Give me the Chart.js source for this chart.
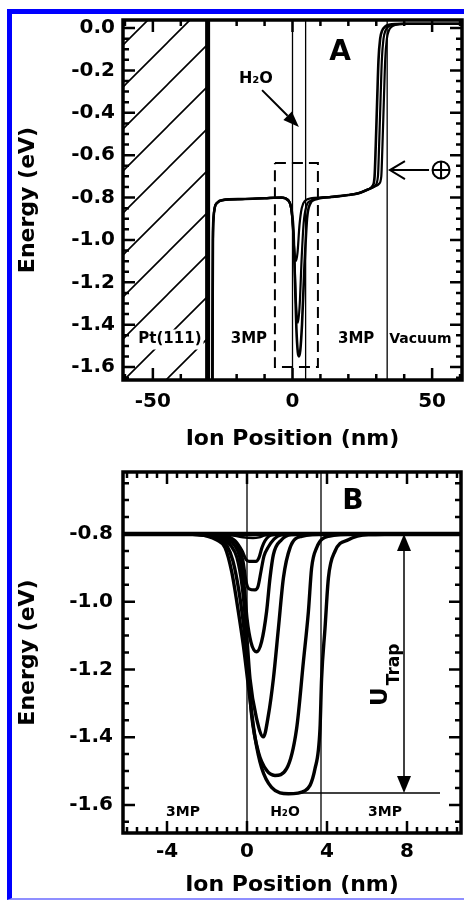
<!DOCTYPE html>
<html>
<head>
<meta charset="utf-8">
<script src="https://cdn.jsdelivr.net/npm/chart.js@4.4.0/dist/chart.umd.min.js"></script>
<style>
  html, body { margin: 0; padding: 0; background: #fff; }
  #page { position: relative; width: 464px; height: 901px; overflow: hidden; background: #fff; }
  canvas { position: absolute; left: 0; }
  #chartA { top: 0; }
  #chartB { top: 455px; }
  #frame { position: absolute; left: 7px; top: 9px; width: 520px; height: 884px;
           border-left: 5px solid #0000ff; border-top: 5px solid #0000ff; border-bottom: 2px solid #8f8fff; }
</style>
</head>
<body>
<div id="page">
  <canvas id="chartA" width="464" height="455"></canvas>
  <canvas id="chartB" width="464" height="446"></canvas>
  <div id="frame"></div>
</div>
<script>
const FONT = "'DejaVu Sans', sans-serif";

// ---------- panel A ----------
const aXRange = [-60.7, 60.7];
const aYRange = [-1.661, 0.038];
const aXLabels = [-50, 0, 50];
const aYLabels = [0, -0.2, -0.4, -0.6, -0.8, -1.0, -1.2, -1.4, -1.6];

const ptSlabX = [-60.7, -30.4];      // Pt(111) electrode
const aWaterLines = [0, 4.7];
const aVacuumLine = 33.9;
const aBoxX = [-6.3, 9.1];           // region blown up in B
const aBoxE = [-0.637, -1.6];

const a1X = [-28.7, -28.5, -28.3, -27.8, -27, -25, -18, -10, -4, -1.5, -0.3, 0.4, 0.9, 1.4, 1.9, 2.3, 2.8, 3.4, 4.3, 5.2, 6.3, 8, 14, 20, 24, 27, 28.7, 29.4, 29.8, 30.3, 30.8, 31.4, 32.1, 33.1, 34.5, 40, 60.7];
const a1E = [-1.70, -1.00, -0.90, -0.845, -0.825, -0.812, -0.807, -0.803, -0.80, -0.815, -0.86, -0.97, -1.20, -1.42, -1.53, -1.55, -1.52, -1.40, -1.12, -0.90, -0.83, -0.81, -0.797, -0.788, -0.778, -0.762, -0.745, -0.70, -0.56, -0.35, -0.15, -0.05, -0.012, 0.006, 0.015, 0.02, 0.02];
const a2X = [-28.7, -28.5, -28.3, -27.8, -27, -25, -18, -10, -4, -1.5, -0.3, 0.5, 1.1, 1.6, 2.0, 2.6, 3.3, 4.0, 5.0, 6.5, 9, 14, 20, 24, 27, 29.5, 30.6, 31.0, 31.5, 32.0, 32.6, 33.3, 34.3, 35.7, 40, 60.7];
const a2E = [-1.70, -1.00, -0.90, -0.845, -0.825, -0.812, -0.807, -0.803, -0.80, -0.812, -0.87, -1.02, -1.25, -1.37, -1.39, -1.30, -1.08, -0.92, -0.84, -0.815, -0.803, -0.797, -0.788, -0.778, -0.762, -0.745, -0.70, -0.56, -0.35, -0.15, -0.05, -0.012, 0.006, 0.015, 0.02, 0.02];
const a3X = [-28.7, -28.5, -28.3, -27.8, -27, -25, -18, -10, -4, -1.5, -0.2, 0.6, 1.2, 1.8, 2.5, 3.3, 4.5, 7, 14, 20, 24, 27, 29.5, 31.0, 31.8, 32.2, 32.7, 33.2, 33.8, 34.5, 35.5, 36.9, 40, 60.7];
const a3E = [-1.70, -1.00, -0.90, -0.845, -0.825, -0.812, -0.807, -0.803, -0.80, -0.812, -0.88, -1.04, -1.10, -1.06, -0.93, -0.85, -0.815, -0.803, -0.797, -0.788, -0.778, -0.762, -0.748, -0.735, -0.70, -0.56, -0.35, -0.15, -0.05, -0.012, 0.006, 0.015, 0.02, 0.02];

// ---------- panel B ----------
const bXRange = [-6.2, 10.7];
const bYRange = [-1.683, -0.617];
const bXLabels = [-4, 0, 4, 8];
const bYLabels = [-0.8, -1.0, -1.2, -1.4, -1.6];

const bWaterLines = [0, 3.7];
const bTrapX = [2.1, 9.65];
const bTrapE = -1.565;
const bBaseE = -0.8;
const bTrapArrowX = 7.85;

const b0X = [-6.2, 10.7];
const b0E = [-0.8, -0.8];
const b1X = [-6.2, -1.5, -0.6, -0.2, 0.3, 0.6, 0.9, 1.4, 10.7];
const b1E = [-0.8, -0.8, -0.805, -0.81, -0.812, -0.81, -0.804, -0.8, -0.8];
const b2X = [-6.2, -2, -1.1, -0.6, -0.25, -0.05, 0.1, 0.45, 0.6, 0.75, 0.9, 1.23, 2, 10.7];
const b2E = [-0.8, -0.8, -0.805, -0.82, -0.85, -0.875, -0.881, -0.881, -0.87, -0.84, -0.82, -0.803, -0.8, -0.8];
const b3X = [-6.2, -2.2, -1.3, -0.8, -0.45, -0.2, -0.05, 0.1, 0.4, 0.55, 0.7, 0.85, 1.05, 1.35, 1.7, 2.5, 10.7];
const b3E = [-0.8, -0.8, -0.805, -0.815, -0.835, -0.88, -0.94, -0.962, -0.965, -0.955, -0.91, -0.865, -0.84, -0.815, -0.803, -0.8, -0.8];
const b4X = [-6.2, -2.5, -1.5, -1.0, -0.6, -0.35, -0.15, 0, 0.2, 0.48, 0.73, 0.98, 1.15, 1.32, 1.73, 2.2, 3, 10.7];
const b4E = [-0.8, -0.8, -0.806, -0.815, -0.835, -0.87, -0.95, -1.05, -1.12, -1.148, -1.118, -1.029, -0.93, -0.861, -0.817, -0.802, -0.8, -0.8];
const b5X = [-6.2, -3, -1.8, -1.2, -0.8, -0.5, -0.25, -0.05, 0.15, 0.48, 0.82, 1.07, 1.32, 1.57, 1.82, 2.15, 2.73, 4, 10.7];
const b5E = [-0.8, -0.8, -0.805, -0.815, -0.835, -0.87, -0.95, -1.07, -1.227, -1.345, -1.399, -1.335, -1.227, -1.079, -0.93, -0.841, -0.807, -0.8, -0.8];
const b6X = [-6.2, -3, -2, -1.4, -1.0, -0.7, -0.4, -0.15, 0.05, 0.23, 0.57, 0.98, 1.4, 1.98, 2.48, 2.82, 3.07, 3.23, 3.48, 4.07, 5.5, 10.7];
const b6E = [-0.8, -0.8, -0.805, -0.815, -0.835, -0.88, -0.97, -1.08, -1.2, -1.335, -1.444, -1.498, -1.513, -1.493, -1.375, -1.177, -1.029, -0.901, -0.841, -0.807, -0.8, -0.8];
const b7X = [-6.2, -3, -2, -1.5, -1.1, -0.77, -0.43, -0.18, 0.05, 0.4, 0.73, 1.23, 2.07, 2.9, 3.4, 3.65, 3.73, 3.9, 4.07, 4.4, 5.07, 6.07, 8, 10.7];
const b7E = [-0.8, -0.8, -0.806, -0.818, -0.84, -0.91, -1.03, -1.13, -1.24, -1.40, -1.49, -1.548, -1.567, -1.558, -1.493, -1.375, -1.227, -1.079, -0.93, -0.851, -0.817, -0.802, -0.8, -0.8];

// tick positions (minor ticks between the labelled ones)
const aXTicks = [], aYTicks = [], bXTicks = [], bYTicks = [];
for (let v = -60; v <= 60; v += 10) aXTicks.push(v);
for (let k = -165; k <= 0; k += 5) aYTicks.push(k / 100);
for (let k = -12; k <= 21; k++) bXTicks.push(k / 2);
for (let k = -165; k <= -65; k += 5) bYTicks.push(k / 100);

const pts = (xs, ys) => xs.map((x, i) => ({ x, y: Array.isArray(ys) ? ys[i] : ys }));
const isMajor = (v, labels) => labels.some(l => Math.abs(l - v) < 1e-9);

function curve(xs, ys, width) {
  return { data: pts(xs, ys), borderColor: '#000', borderWidth: width,
           cubicInterpolationMode: 'monotone', pointRadius: 0, fill: false, order: 1 };
}
function straight(xs, ys, width, dash) {
  return { data: pts(xs, ys), borderColor: '#000', borderWidth: width, borderDash: dash || [],
           tension: 0, pointRadius: 0, fill: false, order: 2 };
}

function hatchPattern() {
  const s = 42, c = document.createElement('canvas');
  c.width = s; c.height = s;
  const g = c.getContext('2d');
  g.strokeStyle = '#000'; g.lineWidth = 1.6;
  g.beginPath();
  g.moveTo(0, s); g.lineTo(s, 0);
  g.moveTo(-s / 2, s / 2); g.lineTo(s / 2, -s / 2);
  g.moveTo(s / 2, s * 1.5); g.lineTo(s * 1.5, s / 2);
  g.stroke();
  return g.createPattern(c, 'repeat');
}

function axisX(range, ticks, labels, pad, height) {
  return {
    type: 'linear', position: 'bottom', min: range[0], max: range[1],
    afterBuildTicks: s => { s.ticks = ticks.map(v => ({ value: v })); },
    afterFit: s => { s.height = height; s.paddingLeft = 0; s.paddingRight = 0; },
    grid: { display: false, drawTicks: false }, border: { display: false },
    ticks: { autoSkip: false, maxRotation: 0, minRotation: 0, padding: pad, color: '#000',
             font: { family: FONT, size: 20, weight: 'bold' },
             callback: v => isMajor(v, labels) ? String(Math.round(v)) : '' },
    title: { display: true, text: 'Ion Position (nm)', color: '#000',
             font: { family: FONT, size: 22, weight: 'bold' }, padding: { top: 0, bottom: 3 } }
  };
}
function axisY(range, ticks, labels, pad) {
  return {
    type: 'linear', position: 'left', min: range[0], max: range[1],
    afterBuildTicks: s => { s.ticks = ticks.map(v => ({ value: v })); },
    afterFit: s => { s.width = 123; s.paddingTop = 0; s.paddingBottom = 0; },
    grid: { display: false, drawTicks: false }, border: { display: false },
    ticks: { autoSkip: false, padding: pad, color: '#000',
             font: { family: FONT, size: 20, weight: 'bold' },
             callback: v => isMajor(v, labels) ? v.toFixed(1) : '' },
    title: { display: true, text: 'Energy (eV)', color: '#000',
             font: { family: FONT, size: 22, weight: 'bold' }, padding: { top: 15, bottom: 0 } }
  };
}

function arrow(ctx, x0, y0, x1, y1, len, half, filled) {
  const a = Math.atan2(y1 - y0, x1 - x0);
  const bx = x1 - len * Math.cos(a), by = y1 - len * Math.sin(a);
  const nx = -Math.sin(a) * half, ny = Math.cos(a) * half;
  ctx.beginPath();
  ctx.moveTo(x0, y0);
  ctx.lineTo(filled ? bx : x1, filled ? by : y1);
  ctx.stroke();
  ctx.beginPath();
  ctx.moveTo(bx + nx, by + ny); ctx.lineTo(x1, y1); ctx.lineTo(bx - nx, by - ny);
  if (filled) { ctx.closePath(); ctx.fill(); } else { ctx.stroke(); }
}

// frame with inward ticks on all four sides, then the panel notes
function framePlugin(cfg) {
  return {
    id: 'frame',
    afterDatasetsDraw(chart) {
      const { ctx, chartArea: a, scales: { x, y } } = chart;
      ctx.save();
      ctx.strokeStyle = '#000';
      ctx.lineWidth = cfg.tickWidth;
      ctx.beginPath();
      x.ticks.forEach(t => {
        const p = x.getPixelForValue(t.value);
        const len = isMajor(t.value, cfg.xLabels) ? cfg.major : cfg.minor;
        ctx.moveTo(p, a.bottom); ctx.lineTo(p, a.bottom - len);
        ctx.moveTo(p, a.top); ctx.lineTo(p, a.top + len);
      });
      y.ticks.forEach(t => {
        const p = y.getPixelForValue(t.value);
        const len = isMajor(t.value, cfg.yLabels) ? cfg.major : cfg.minor;
        ctx.moveTo(a.left, p); ctx.lineTo(a.left + len, p);
        ctx.moveTo(a.right, p); ctx.lineTo(a.right - len, p);
      });
      ctx.stroke();
      ctx.lineWidth = cfg.frameWidth;
      ctx.strokeRect(a.left, a.top, a.right - a.left, a.bottom - a.top);
      ctx.restore();
      cfg.notes(chart);
    }
  };
}

function notesA(chart) {
  const { ctx, scales: { x, y } } = chart;
  const X = v => x.getPixelForValue(v), Y = v => y.getPixelForValue(v);
  ctx.save();
  ctx.fillStyle = '#000'; ctx.strokeStyle = '#000';
  ctx.textAlign = 'center'; ctx.textBaseline = 'middle';

  ctx.font = `bold 15px ${FONT}`;
  const w = ctx.measureText('Pt(111)').width;
  ctx.fillStyle = '#fff';
  ctx.fillRect(X(-43.9) - w / 2 - 2, Y(-1.47) - 10, w + 4, 20);
  ctx.fillStyle = '#000';
  ctx.fillText('Pt(111)', X(-43.9), Y(-1.47));
  ctx.fillText('3MP', X(-15.6), Y(-1.47));
  ctx.fillText('3MP', X(22.8), Y(-1.47));
  ctx.font = `bold 14px ${FONT}`;
  ctx.fillText('Vacuum', X(45.8), Y(-1.47));

  ctx.font = `bold 28px ${FONT}`;
  ctx.fillText('A', X(17), Y(-0.118));

  ctx.font = `bold 16px ${FONT}`;
  ctx.fillText('H\u2082O', X(-13.1), Y(-0.241));
  ctx.lineWidth = 2;
  arrow(ctx, X(-10.9), Y(-0.293), X(2.3), Y(-0.467), 16, 6, true);

  const cx = X(53.2), cy = Y(-0.67), r = 8.5;
  ctx.beginPath();
  ctx.arc(cx, cy, r, 0, 2 * Math.PI);
  ctx.moveTo(cx - r, cy); ctx.lineTo(cx + r, cy);
  ctx.moveTo(cx, cy - r); ctx.lineTo(cx, cy + r);
  ctx.stroke();
  arrow(ctx, X(48.9), cy, X(34.9), cy, 15, 9, false);
  ctx.restore();
}

function notesB(chart) {
  const { ctx, scales: { x, y } } = chart;
  const X = v => x.getPixelForValue(v), Y = v => y.getPixelForValue(v);
  ctx.save();
  ctx.fillStyle = '#000'; ctx.strokeStyle = '#000';
  ctx.textAlign = 'center'; ctx.textBaseline = 'middle';

  ctx.font = `bold 14px ${FONT}`;
  ctx.fillText('3MP', X(-3.2), Y(-1.621));
  ctx.fillText('H\u2082O', X(1.9), Y(-1.621));
  ctx.fillText('3MP', X(6.9), Y(-1.621));

  ctx.font = `bold 28px ${FONT}`;
  ctx.fillText('B', X(5.3), Y(-0.706));

  // U_Trap double arrow
  const ax = X(bTrapArrowX), top = Y(bBaseE), bot = Y(bTrapE);
  ctx.lineWidth = 1.5;
  ctx.beginPath(); ctx.moveTo(ax, top + 14); ctx.lineTo(ax, bot - 14); ctx.stroke();
  ctx.beginPath(); ctx.moveTo(ax, top); ctx.lineTo(ax - 7, top + 17); ctx.lineTo(ax + 7, top + 17); ctx.closePath(); ctx.fill();
  ctx.beginPath(); ctx.moveTo(ax, bot); ctx.lineTo(ax - 7, bot - 17); ctx.lineTo(ax + 7, bot - 17); ctx.closePath(); ctx.fill();

  ctx.translate(X(7.0), Y(-1.308));
  ctx.rotate(-Math.PI / 2);
  ctx.textAlign = 'left'; ctx.textBaseline = 'alphabetic';
  ctx.font = `bold 23px ${FONT}`;
  ctx.fillText('U', 0, 0);
  const uw = ctx.measureText('U').width;
  ctx.font = `bold 17px ${FONT}`;
  ctx.fillText('Trap', uw + 2, 12);
  ctx.restore();
}

const common = {
  responsive: false, animation: false, events: [], devicePixelRatio: 1,
  elements: { point: { radius: 0 } },
  plugins: { legend: { display: false }, tooltip: { enabled: false } }
};

new Chart(document.getElementById('chartA'), {
  type: 'line',
  data: { datasets: [
    { data: pts(ptSlabX, aYRange[1]), borderWidth: 0, pointRadius: 0, tension: 0,
      fill: 'start', backgroundColor: hatchPattern(), order: 10 },
    straight([ptSlabX[1], ptSlabX[1]], aYRange, 5),
    straight([aWaterLines[0], aWaterLines[0]], aYRange, 1.3),
    straight([aWaterLines[1], aWaterLines[1]], aYRange, 1.3),
    straight([aVacuumLine, aVacuumLine], aYRange, 1.3),
    straight([aBoxX[0], aBoxX[1], aBoxX[1], aBoxX[0], aBoxX[0]],
             [aBoxE[0], aBoxE[0], aBoxE[1], aBoxE[1], aBoxE[0]], 2, [11, 6]),
    curve(a3X, a3E, 2.2),
    curve(a2X, a2E, 2.2),
    curve(a1X, a1E, 2.6)
  ] },
  options: Object.assign({}, common, {
    layout: { padding: { top: 20, right: 2, left: 0, bottom: 0 } },
    scales: { x: axisX(aXRange, aXTicks, aXLabels, 10, 75), y: axisY(aYRange, aYTicks, aYLabels, 8) }
  }),
  plugins: [framePlugin({ xLabels: aXLabels, yLabels: aYLabels, major: 12, minor: 6,
                          tickWidth: 2.5, frameWidth: 3.5, notes: notesA })]
});

new Chart(document.getElementById('chartB'), {
  type: 'line',
  data: { datasets: [
    straight([bWaterLines[0], bWaterLines[0]], bYRange, 1.3),
    straight([bWaterLines[1], bWaterLines[1]], bYRange, 1.3),
    straight(bTrapX, bTrapE, 1.6),
    curve(b7X, b7E, 3.4),
    curve(b6X, b6E, 3.4),
    curve(b5X, b5E, 3.4),
    curve(b4X, b4E, 3.4),
    curve(b3X, b3E, 3.2),
    curve(b2X, b2E, 3.2),
    curve(b1X, b1E, 2.5),
    curve(b0X, b0E, 4.5)
  ] },
  options: Object.assign({}, common, {
    layout: { padding: { top: 17, right: 3, left: 0, bottom: 0 } },
    scales: { x: axisX(bXRange, bXTicks, bXLabels, 7, 68), y: axisY(bYRange, bYTicks, bYLabels, 10) }
  }),
  plugins: [framePlugin({ xLabels: bXLabels, yLabels: bYLabels, major: 12, minor: 6,
                          tickWidth: 2.5, frameWidth: 3.5, notes: notesB })]
});
</script>
</body>
</html>
